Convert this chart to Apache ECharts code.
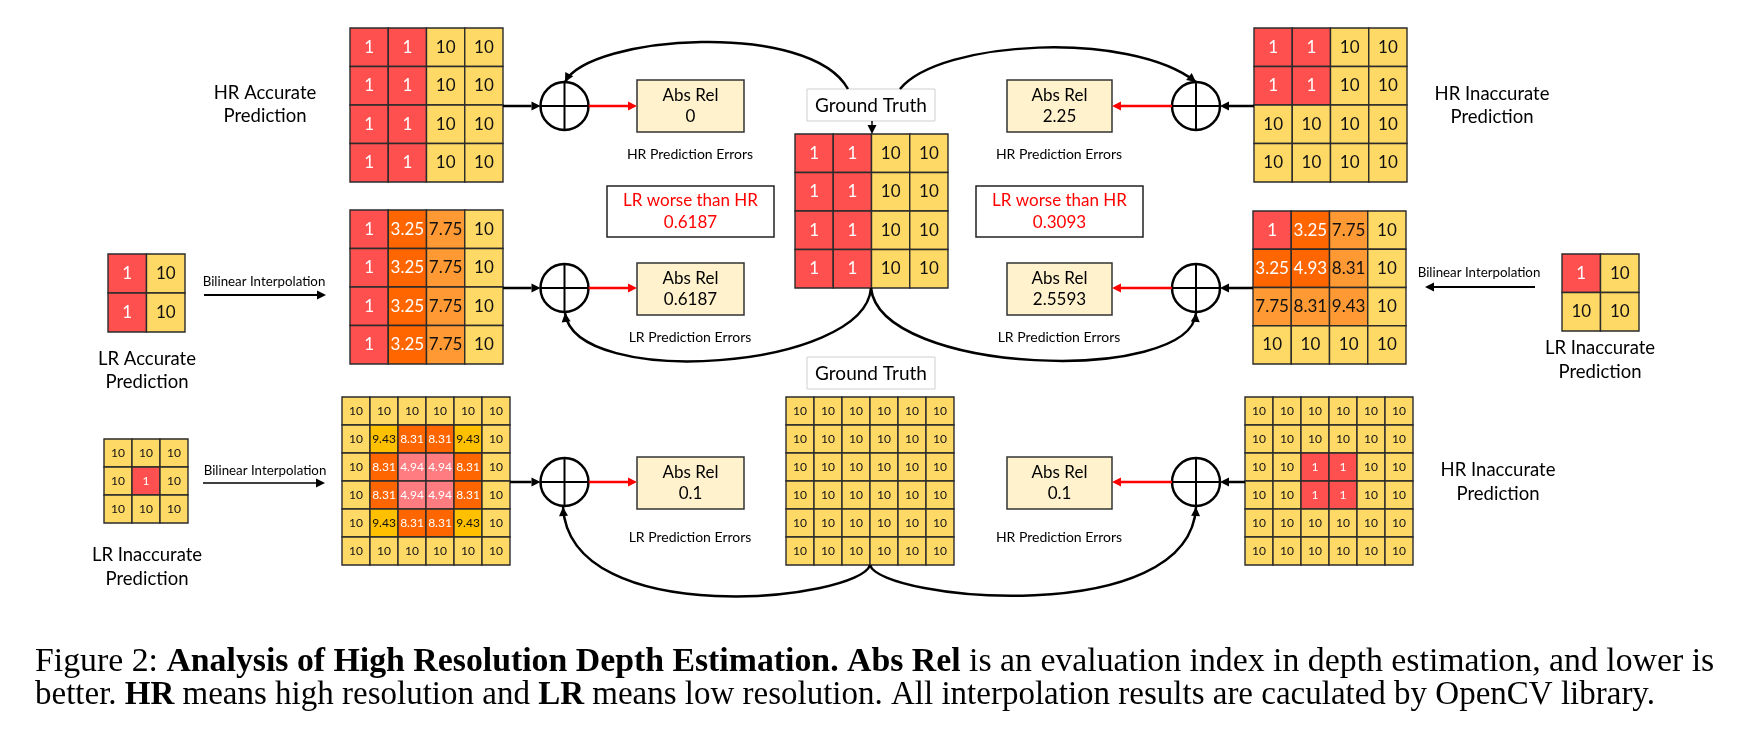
<!DOCTYPE html>
<html>
<head>
<meta charset="utf-8">
<script src="https://cdn.jsdelivr.net/npm/echarts@6/dist/echarts.min.js"></script>
<style>
html, body { margin: 0; padding: 0; background: #fff; }
#chart { width: 1746px; height: 730px; }
</style>
</head>
<body>
<div id="chart"></div>
<script>
// cell values, one array per row
var hrAccurate = [[1, 1, 10, 10], [1, 1, 10, 10], [1, 1, 10, 10], [1, 1, 10, 10]];
var groundTruth4 = [[1, 1, 10, 10], [1, 1, 10, 10], [1, 1, 10, 10], [1, 1, 10, 10]];
var hrInaccurate4 = [[1, 1, 10, 10], [1, 1, 10, 10], [10, 10, 10, 10], [10, 10, 10, 10]];
var lrAccurate = [[1, 10], [1, 10]];
var lrAccurateUp = [[1, 3.25, 7.75, 10], [1, 3.25, 7.75, 10], [1, 3.25, 7.75, 10], [1, 3.25, 7.75, 10]];
var lrInaccurate2 = [[1, 10], [10, 10]];
var lrInaccurateUp4 = [[1, 3.25, 7.75, 10], [3.25, 4.93, 8.31, 10], [7.75, 8.31, 9.43, 10], [10, 10, 10, 10]];
var lrInaccurate3 = [[10, 10, 10], [10, 1, 10], [10, 10, 10]];
var lrInaccurateUp6 = [
    [10, 10, 10, 10, 10, 10],
    [10, 9.43, 8.31, 8.31, 9.43, 10],
    [10, 8.31, 4.94, 4.94, 8.31, 10],
    [10, 8.31, 4.94, 4.94, 8.31, 10],
    [10, 9.43, 8.31, 8.31, 9.43, 10],
    [10, 10, 10, 10, 10, 10]
];
var groundTruth6 = [
    [10, 10, 10, 10, 10, 10],
    [10, 10, 10, 10, 10, 10],
    [10, 10, 10, 10, 10, 10],
    [10, 10, 10, 10, 10, 10],
    [10, 10, 10, 10, 10, 10],
    [10, 10, 10, 10, 10, 10]
];
var hrInaccurate6 = [
    [10, 10, 10, 10, 10, 10],
    [10, 10, 10, 10, 10, 10],
    [10, 10, 1, 1, 10, 10],
    [10, 10, 1, 1, 10, 10],
    [10, 10, 10, 10, 10, 10],
    [10, 10, 10, 10, 10, 10]
];
var absRelLeft = ['0', '0.6187', '0.1'];
var absRelRight = ['2.25', '2.5593', '0.1'];
var errorLabelsLeft = ['HR Prediction Errors', 'LR Prediction Errors', 'LR Prediction Errors'];
var errorLabelsRight = ['HR Prediction Errors', 'LR Prediction Errors', 'HR Prediction Errors'];
var lrWorseThanHr = ['0.6187', '0.3093'];

var RED = '#FF5050', YELLOW = '#FFD966', DEEP = '#FF6600', LIGHT = '#FF9933', AMBER = '#FFC000', PINK = '#FF7C80';
var palette4 = { '1': RED, '10': YELLOW, '3.25': DEEP, '4.93': DEEP, '7.75': LIGHT, '8.31': LIGHT, '9.43': LIGHT };
var palette6 = { '1': RED, '10': YELLOW, '9.43': AMBER, '8.31': DEEP, '4.94': PINK };
var FONT = 'Lato, "Open Sans", sans-serif';

var matrices = [
    { values: hrAccurate, left: 350, top: 28, w: 153, h: 154, palette: palette4, fs: 17 },
    { values: groundTruth4, left: 795, top: 134, w: 153, h: 154, palette: palette4, fs: 17 },
    { values: hrInaccurate4, left: 1254, top: 28, w: 153, h: 154, palette: palette4, fs: 17 },
    { values: lrAccurate, left: 108, top: 254, w: 77, h: 78, palette: palette4, fs: 17 },
    { values: lrAccurateUp, left: 350, top: 210, w: 153, h: 154, palette: palette4, fs: 17 },
    { values: lrInaccurateUp4, left: 1253, top: 211, w: 153, h: 153, palette: palette4, fs: 17 },
    { values: lrInaccurate2, left: 1562, top: 254, w: 77, h: 77, palette: palette4, fs: 17 },
    { values: lrInaccurate3, left: 104, top: 439, w: 84, h: 84, palette: palette4, fs: 12 },
    { values: lrInaccurateUp6, left: 342, top: 397, w: 168, h: 168, palette: palette6, fs: 12 },
    { values: groundTruth6, left: 786, top: 397, w: 168, h: 168, palette: palette6, fs: 12 },
    { values: hrInaccurate6, left: 1245, top: 397, w: 168, h: 168, palette: palette6, fs: 12 }
];

function range(n) {
    var out = [];
    for (var i = 0; i < n; i++) out.push(String(i));
    return out;
}

function cellRenderer(m) {
    return function(params, api) {
        var v = api.value(2);
        var c = api.coord([api.value(0), api.value(1)]);
        var s = api.size([1, 1]);
        var fill = m.palette[String(v)] || YELLOW;
        var light = (fill === RED || fill === DEEP || fill === PINK);
        return {
            type: 'group',
            children: [{
                type: 'rect',
                shape: { x: c[0] - s[0] / 2, y: c[1] - s[1] / 2, width: s[0], height: s[1] },
                style: { fill: fill, stroke: '#2b2b2b', lineWidth: 1.4 }
            }, {
                type: 'text',
                style: {
                    text: String(v), x: c[0], y: c[1], align: 'center', verticalAlign: 'middle',
                    fill: light ? '#ffffff' : '#111111', font: m.fs + 'px ' + FONT
                }
            }]
        };
    };
}

var grids = [], xAxes = [], yAxes = [], series = [];
matrices.forEach(function(m, i) {
    grids.push({ left: m.left, top: m.top, width: m.w, height: m.h });
    xAxes.push({ type: 'category', gridIndex: i, data: range(m.values[0].length), show: false });
    yAxes.push({ type: 'category', gridIndex: i, data: range(m.values.length), inverse: true, show: false });
    var data = [];
    m.values.forEach(function(row, r) {
        row.forEach(function(v, c) { data.push([c, r, v]); });
    });
    series.push({
        type: 'custom', xAxisIndex: i, yAxisIndex: i, data: data,
        renderItem: cellRenderer(m), silent: true, animation: false
    });
});

// diagram annotations
var g = [];

function text(str, x, y, size, color, extra) {
    var el = {
        type: 'text', z: 10,
        style: { text: str, x: x, y: y, align: 'center', verticalAlign: 'middle', fill: color || '#000', font: size + 'px ' + FONT }
    };
    if (extra) Object.assign(el.style, extra);
    g.push(el);
}

function head(x, y, ang, color, L, W) {
    L = L || 9; W = W || 4.5;
    var bx = x - L * Math.cos(ang), by = y - L * Math.sin(ang);
    g.push({
        type: 'polygon', z: 11,
        shape: { points: [[x, y], [bx - W * Math.sin(ang), by + W * Math.cos(ang)], [bx + W * Math.sin(ang), by - W * Math.cos(ang)]] },
        style: { fill: color }
    });
    return [bx, by];
}

function arrow(x1, y1, x2, y2, color, width) {
    var ang = Math.atan2(y2 - y1, x2 - x1);
    var b = head(x2, y2, ang, color);
    g.push({ type: 'line', z: 10, shape: { x1: x1, y1: y1, x2: b[0], y2: b[1] }, style: { stroke: color, lineWidth: width || 2.5 } });
}

function curve(p0, p1, p2, p3) {
    var ang = Math.atan2(p3[1] - p2[1], p3[0] - p2[0]);
    head(p3[0], p3[1], ang, '#000', 9, 4.5);
    g.push({
        type: 'bezierCurve', z: 10,
        shape: { x1: p0[0], y1: p0[1], cpx1: p1[0], cpy1: p1[1], cpx2: p2[0], cpy2: p2[1], x2: p3[0], y2: p3[1] },
        style: { stroke: '#000', lineWidth: 2.5, fill: null }
    });
}

function plus(cx, cy) {
    var r = 24;
    g.push({ type: 'circle', z: 10, shape: { cx: cx, cy: cy, r: r }, style: { fill: '#fff', stroke: '#000', lineWidth: 2.5 } });
    g.push({ type: 'line', z: 11, shape: { x1: cx - r, y1: cy, x2: cx + r, y2: cy }, style: { stroke: '#000', lineWidth: 2 } });
    g.push({ type: 'line', z: 11, shape: { x1: cx, y1: cy - r, x2: cx, y2: cy + r }, style: { stroke: '#000', lineWidth: 2 } });
}

function box(x, y, w, h, fill, stroke, lw) {
    g.push({ type: 'rect', z: 9, shape: { x: x, y: y, width: w, height: h }, style: { fill: fill, stroke: stroke, lineWidth: lw || 1.5 } });
}

var rowsY = [106, 288, 482];
var absBoxTop = [80, 263, 457];
var errY = [154, 337, 537];
var leftGridRight = [503, 503, 510];
var rightGridLeft = [1254, 1253, 1245];
var LCX = 564.5, RCX = 1196;

rowsY.forEach(function(y, i) {
    plus(LCX, y);
    plus(RCX, y);
    arrow(leftGridRight[i], y, LCX - 24, y, '#000', 2.5);
    arrow(rightGridLeft[i], y, RCX + 24, y, '#000', 2.5);
    arrow(LCX + 24, y, 637, y, '#FF0000', 2.5);
    arrow(RCX - 24, y, 1112, y, '#FF0000', 2.5);
    box(637, absBoxTop[i], 107, 52, '#FFF2CC', '#333', 1.5);
    box(1007, absBoxTop[i], 105, 52, '#FFF2CC', '#333', 1.5);
    text('Abs Rel', 690.5, absBoxTop[i] + 16, 17);
    text(absRelLeft[i], 690.5, absBoxTop[i] + 37, 17);
    text('Abs Rel', 1059.5, absBoxTop[i] + 16, 17);
    text(absRelRight[i], 1059.5, absBoxTop[i] + 37, 17);
    text(errorLabelsLeft[i], 690, errY[i], 14);
    text(errorLabelsRight[i], 1059, errY[i], 14);
});

// "LR worse than HR" boxes
box(607, 186, 167, 51, '#fff', '#222', 1.5);
box(976, 186, 167, 51, '#fff', '#222', 1.5);
text('LR worse than HR', 690.5, 201, 17, '#FF0000');
text(lrWorseThanHr[0], 690.5, 223, 17, '#FF0000');
text('LR worse than HR', 1059.5, 201, 17, '#FF0000');
text(lrWorseThanHr[1], 1059.5, 223, 17, '#FF0000');

// ground truth tags
box(807, 89, 128, 32, '#fff', '#cfcfcf', 1);
text('Ground Truth', 871, 105.5, 19);
arrow(872, 121, 872, 134, '#000', 1.5);
box(807, 357, 128, 32, '#fff', '#cfcfcf', 1);
text('Ground Truth', 871, 373.5, 19);

// curved connections from the ground truth
curve([848, 89], [810, 20], [590, 35], [565, 82]);
curve([900, 89], [940, 40], [1130, 30], [1196, 82]);
curve([871, 288], [865, 370], [575, 390], [565, 313]);
curve([871, 288], [880, 375], [1190, 385], [1196, 313]);
curve([870, 565], [860, 600], [570, 632], [563, 507]);
curve([870, 565], [880, 600], [1190, 630], [1196, 507]);

// interpolation arrows
text('Bilinear Interpolation', 264, 282, 13.3);
arrow(204, 295, 326, 295, '#000', 2);
text('Bilinear Interpolation', 1479, 273, 13.3);
arrow(1535, 287, 1425, 287, '#000', 2);
text('Bilinear Interpolation', 265, 471, 13.3);
arrow(203, 483, 325, 483, '#000', 1.5);

// side labels
text('HR Accurate\nPrediction', 265, 105, 18.5, '#000', { lineHeight: 23 });
text('HR Inaccurate\nPrediction', 1492, 106, 18.5, '#000', { lineHeight: 23 });
text('LR Accurate\nPrediction', 147, 371, 18.5, '#000', { lineHeight: 23 });
text('LR Inaccurate\nPrediction', 1600, 360, 18.5, '#000', { lineHeight: 24 });
text('HR Inaccurate\nPrediction', 1498, 482, 18.5, '#000', { lineHeight: 24 });
text('LR Inaccurate\nPrediction', 147, 567, 18.5, '#000', { lineHeight: 24 });

// caption; the first line is justified to the right margin
var SERIF = '"Liberation Serif", "Times New Roman", serif';
var capRich = {
    n: { font: '33px ' + SERIF, fill: '#000' },
    b: { font: 'bold 33px ' + SERIF, fill: '#000' }
};
g.push({
    type: 'text', z: 10, x: 35, y: 662, scaleX: 1.024,
    style: {
        x: 0, y: 0, verticalAlign: 'middle', align: 'left', rich: capRich,
        text: '{n|Figure 2: }{b|Analysis of High Resolution Depth Estimation. Abs Rel}{n| is an evaluation index in depth estimation, and lower is}'
    }
});
g.push({
    type: 'text', z: 10, x: 35, y: 695,
    style: {
        x: 0, y: 0, verticalAlign: 'middle', align: 'left', rich: capRich,
        text: '{n|better. }{b|HR}{n| means high resolution and }{b|LR}{n| means low resolution. All interpolation results are caculated by OpenCV library.}'
    }
});

var chart = echarts.init(document.getElementById('chart'));
chart.setOption({
    backgroundColor: '#fff',
    animation: false,
    grid: grids,
    xAxis: xAxes,
    yAxis: yAxes,
    series: series,
    graphic: g
});
</script>
</body>
</html>
